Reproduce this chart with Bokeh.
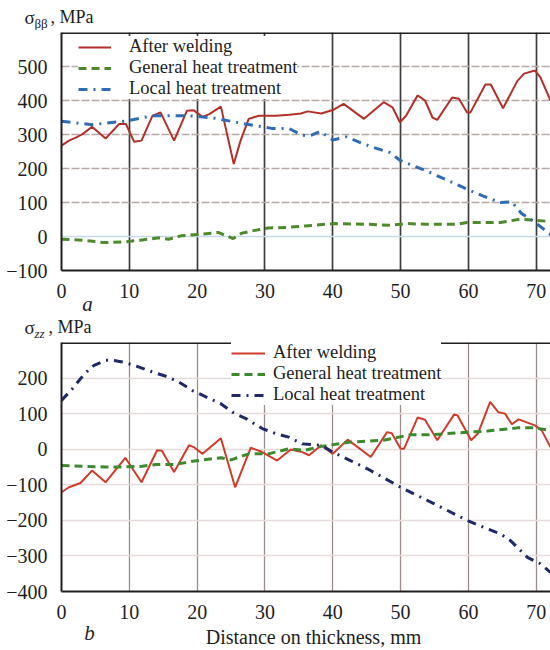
from bokeh.plotting import figure
from bokeh.models import (Range1d, FixedTicker, Span, Legend, LegendItem,
                          CustomJSTickFormatter)
from bokeh.layouts import column
from bokeh.embed import file_html
from bokeh.resources import INLINE
from bokeh.core.properties import value

FONT = "Liberation Serif"
INK = "#1e1e1e"

# ---------------- data: panel a (sigma_beta_beta) ----------------
a_weld_x = [0, 1.1, 2.1, 3.1, 4.5, 6.5, 8.5, 9.5, 10.7, 11.8, 13.4, 14.6, 16.6, 18.5, 19.5,
            20.8, 21.8, 23.5, 25.4, 26.4, 27.6, 29.1, 31.6, 33.6, 35.3, 36.3, 38.3, 40, 41.6,
            44.6, 47.5, 48.8, 49.9, 50.8, 52.5, 53.6, 54.7, 55.4, 57.6, 58.6, 59.8, 60.3, 62.5,
            63.3, 65.1, 67.2, 68.2, 69.8, 70.6, 72.1]
a_weld_y = [267, 282, 291, 301, 323, 288, 331, 331, 279, 282, 355, 365, 282, 370, 371,
            352, 360, 382, 213, 282, 346, 355, 355, 358, 362, 368, 362, 372, 390,
            346, 395, 380, 336, 355, 415, 400, 350, 343, 409, 405, 365, 365, 447,
            447, 377, 457, 479, 488, 469, 400]

a_general_x = [0, 3.3, 6.3, 9.2, 11.6, 14.4, 15.8, 17.6, 20.3, 23.1, 25.3, 26.6, 28.5, 30.5,
               33.5, 35.9, 40.2, 45.1, 48.5, 51, 53.8, 58.2, 59.8, 64.7, 67.6, 69.6, 72.1]
a_general_y = [-8, -11, -18, -16, -11, -4, -8, 2, 6, 12, -6, 10, 18, 25,
               27, 31, 38, 36, 33, 38, 36, 36, 41, 41, 51, 48, 44]

a_local_x = [0, 4.5, 9.3, 13.4, 18.8, 22.3, 27.1, 31, 33.5, 35.5, 36.6, 38.1, 40, 42, 44.3,
             46, 48.4, 50, 53.8, 57.6, 59.8, 62.2, 64.7, 66.4, 67.8, 69.5, 71.6, 72.3]
a_local_y = [339, 329, 339, 355, 355, 349, 331, 318, 318, 298, 296, 309, 284, 293, 274,
             262, 247, 223, 193, 159, 139, 119, 100, 102, 68, 46, 14, 2]

# ---------------- data: panel b (sigma_zz) ----------------
b_weld_x = [0, 1.1, 2.8, 4.5, 6.5, 9.4, 11.8, 14.1, 14.8, 16.6, 18.8, 19.5, 20.8, 23.5, 25.6,
            27.9, 29.6, 31.8, 33.8, 35.5, 36.5, 38.3, 40, 42.2, 45.6, 48, 48.7, 50, 50.5,
            52.5, 53.6, 55.4, 57.9, 58.4, 60.4, 61.4, 63.2, 64.4, 65.4, 66.4, 67.4, 69.8,
            70.8, 72.1]
b_weld_y = [-121, -107, -95, -60, -93, -24, -93, -3, -4, -64, 11, 6, -13, 31, -107,
            4, -8, -32, -1, -8, -17, 11, -13, 27, -22, 48, 45, 1, 1,
            89, 83, 25, 98, 95, 25, 44, 133, 104, 100, 70, 84, 67,
            53, 6]

b_general_x = [0, 6.5, 9, 11.9, 13.9, 16.7, 19.6, 23.5, 25, 27.6, 30.5, 33.5, 35.9, 38.3,
               42.6, 47.5, 51.5, 54.9, 59.8, 62.8, 67.2, 69.6, 72.1]
b_general_y = [-46, -50, -50, -48, -43, -43, -33, -24, -30, -13, -13, 1, -3, 8,
               20, 25, 41, 41, 48, 51, 60, 60, 53]

b_local_x = [0, 1.6, 3.4, 4.8, 6.5, 7.5, 9, 10.7, 13.4, 15.4, 17.3, 19.3, 21.3, 23.5, 25.2,
             27.2, 29.6, 31.6, 33.5, 35.5, 38.3, 40, 42.6, 45.1, 50, 54.9, 59.8, 62.8, 64.7,
             66.2, 68.7, 70.6, 72.1]
b_local_y = [137, 170, 212, 236, 250, 250, 245, 236, 217, 205, 189, 165, 147, 128, 104,
             86, 58, 44, 34, 15, 11, -8, -32, -55, -107, -153, -200, -224, -238,
             -257, -304, -322, -346]

x_ticks = [0, 10, 20, 30, 40, 50, 60, 70]
a_y_ticks = [-100, 0, 100, 200, 300, 400, 500]
b_y_ticks = [-400, -300, -200, -100, 0, 100, 200]
series_names = ["After welding", "General heat treatment", "Local heat treatment"]
a_title = ["σ", "ββ", ", MPa"]
b_title = ["σ", "zz", ", MPa"]
panel_letters = ["a", "b"]
x_title = "Distance on thickness, mm"

W = 550
X_END = 72.1
minus_fmt = "return tick < 0 ? '\\u2212' + (-tick) : '' + tick;"


def no_align(f):
    try:
        f.frame_align = False
    except Exception:
        pass


def text_fig(height):
    f = figure(width=W, height=height, x_range=Range1d(0, W), y_range=Range1d(0, height),
               x_axis_type=None, y_axis_type=None, output_backend="svg",
               toolbar_location=None, min_border=0)
    f.outline_line_color = None
    f.grid.visible = False
    no_align(f)
    return f


def put_text(f, x, baseline_from_top, txt, size_px, style="normal", align="left"):
    # text is anchored by its middle; place the alphabetic baseline at the wanted row
    h = f.y_range.end
    y = h - (baseline_from_top - 0.3375 * size_px)
    f.text(x=[x], y=[y], text=[txt], text_font=value(FONT),
           text_font_size=value("%gpx" % size_px), text_font_style=style,
           text_align=align, text_baseline=value("middle"), text_color=INK)


def base_fig(height, y0, y1, top, bottom):
    p = figure(width=W, height=height, x_range=Range1d(0, X_END), y_range=Range1d(y0, y1),
               output_backend="svg", toolbar_location=None,
               min_border_left=61, min_border_right=0, min_border_top=top,
               min_border_bottom=bottom)
    no_align(p)
    p.outline_line_color = None
    p.background_fill_color = "white"
    for ax in (p.xaxis, p.yaxis):
        ax.major_tick_line_color = None
        ax.minor_tick_line_color = None
        ax.axis_line_width = 2
        ax.axis_line_color = INK
        ax.major_label_text_font = FONT
        ax.major_label_text_font_size = "20px"
        ax.major_label_text_color = INK
        ax.formatter = CustomJSTickFormatter(code=minus_fmt)
    p.xaxis.ticker = FixedTicker(ticks=x_ticks)
    p.xaxis.major_label_standoff = 7
    p.yaxis.major_label_standoff = 8
    p.add_layout(Span(location=y1, dimension="width", line_color=INK, line_width=3))
    return p


def make_legend(renderers, loc, padding, standoff, glyph_w):
    return Legend(items=[LegendItem(label=n, renderers=[r]) for n, r in zip(series_names, renderers)],
                  location=loc, margin=0, padding=padding, spacing=0,
                  glyph_width=glyph_w, glyph_height=16, label_height=16, label_standoff=standoff,
                  label_text_font=FONT, label_text_font_size="18.5px", label_text_color=INK,
                  border_line_color=None, background_fill_color="white",
                  background_fill_alpha=1)


# ---------------- header with sigma_bb title (page rows 0-30) ----------------
hdr = text_fig(30)
put_text(hdr, 24, 23, a_title[0], 19)
put_text(hdr, 34, 27, a_title[1], 13)
put_text(hdr, 50, 23, a_title[2], 18)

# ---------------- panel a (rows 30-300) ----------------
pa = base_fig(270, -100, 600, 2, 30)
pa.yaxis.ticker = FixedTicker(ticks=a_y_ticks)
pa.xgrid.ticker = FixedTicker(ticks=x_ticks[1:])
pa.xgrid.grid_line_color = "#3c3c3c"
pa.xgrid.grid_line_width = 1.7
pa.ygrid.ticker = FixedTicker(ticks=[100, 200, 300, 400, 500])
pa.ygrid.grid_line_color = "#b5aaa5"
pa.ygrid.grid_line_width = 1.5
pa.ygrid.grid_line_dash = "8 2"
pa.add_layout(Span(location=0, dimension="width", line_color="#c6d9e8", line_width=1.5,
                   level="underlay"))

ra1 = pa.line(a_weld_x, a_weld_y, line_color="#b3302a", line_width=2)
ra2 = pa.line(a_general_x, a_general_y, line_color="#4d8a2c", line_width=3, line_dash="8 5")
ra3 = pa.line(a_local_x, a_local_y, line_color="#2e6cb5", line_width=3, line_dash="9 6 2 6")
pa.add_layout(make_legend([ra1, ra2, ra3], (17, 171), 4, 18, 33))

# ---------------- middle strip: "a" and sigma_zz title (rows 300-340) ----------------
mid = text_fig(40)
put_text(mid, 87, 11, panel_letters[0], 21, style="italic", align="center")
put_text(mid, 24, 33, b_title[0], 19)
put_text(mid, 34, 37, b_title[1], 13, style="italic")
put_text(mid, 48, 33, b_title[2], 18)

# ---------------- panel b (rows 340-621) ----------------
pb = base_fig(281, -400, 300, 2, 30)
pb.yaxis.ticker = FixedTicker(ticks=b_y_ticks)
pb.xgrid.ticker = FixedTicker(ticks=x_ticks[1:])
pb.xgrid.grid_line_color = "#9b8d89"
pb.xgrid.grid_line_width = 1.3
pb.ygrid.ticker = FixedTicker(ticks=[-300, -200, -100, 0, 100, 200])
pb.ygrid.grid_line_color = "#e6dada"
pb.ygrid.grid_line_width = 1.4

rb1 = pb.line(b_weld_x, b_weld_y, line_color="#cf3b2b", line_width=2)
rb2 = pb.line(b_general_x, b_general_y, line_color="#3d8a2e", line_width=3, line_dash="8 5")
rb3 = pb.line(b_local_x, b_local_y, line_color="#1f2968", line_width=3, line_dash="9 6 2 6")
pb.add_layout(make_legend([rb1, rb2, rb3], (170, 186), 2, 8, 34))

# ---------------- footer: "b" and x-axis title (rows 621-648) ----------------
ftr = text_fig(27)
put_text(ftr, 89, 19, panel_letters[1], 21, style="italic", align="center")
put_text(ftr, 313, 22, x_title, 20, align="center")

layout = column(hdr, pa, mid, pb, ftr, spacing=0)
open("out.html", "w").write(file_html(layout, INLINE))
